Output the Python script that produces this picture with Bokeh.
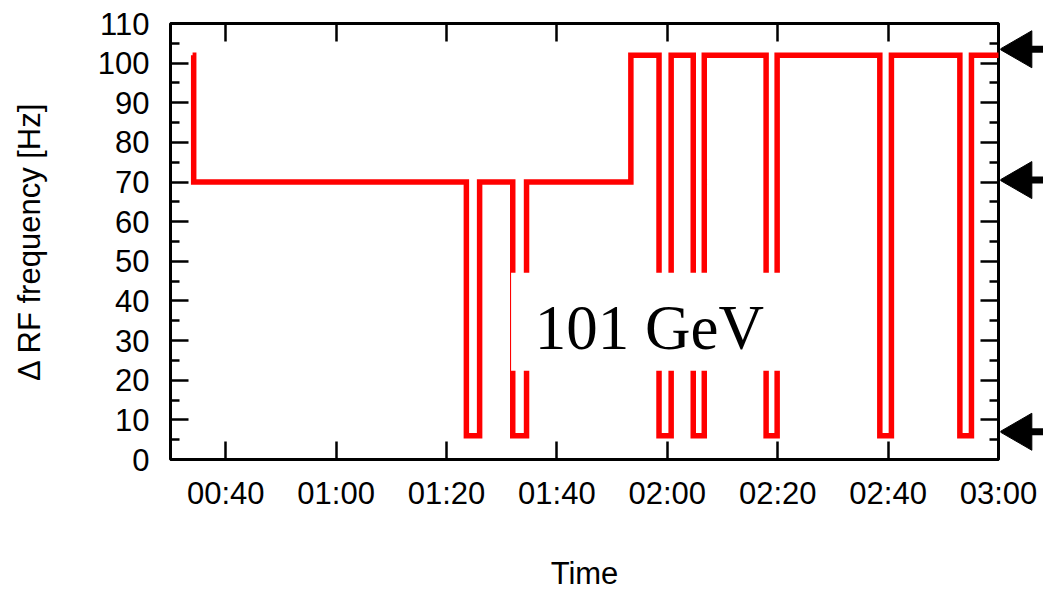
import math

from bokeh.plotting import figure
from bokeh.layouts import row
from bokeh.models import Range1d, FixedTicker, LinearAxis, BoxAnnotation, Label
from bokeh.embed import file_html
from bokeh.resources import INLINE

# RF frequency offset programme: switch times (minutes after 00:00) and levels [Hz]
switch_minutes = [34.0, 34.2, 83.6, 86.0, 92.0, 94.5, 113.4, 118.5, 120.7,
                  124.7, 126.7, 137.9, 139.9, 158.5, 160.6, 173.0, 175.1, 181.0]
delta_rf_hz = [102, 70, 6, 70, 6, 70, 102, 6, 102,
               6, 102, 6, 102, 6, 102, 6, 102, 102]

# reference levels marked by arrows on the right edge [Hz]
arrow_levels = [103.5, 70.5, 7.0]

x_tick_minutes = [40, 60, 80, 100, 120, 140, 160, 180]
x_tick_labels = ["00:40", "01:00", "01:20", "01:40", "02:00", "02:20", "02:40", "03:00"]
y_ticks = list(range(0, 111, 10))
y_minor_ticks = list(range(5, 110, 10))

energy_label = "101 GeV"
x_title = "Time"
y_title = "\u0394 RF frequency [Hz]"

FONT = "Liberation Sans"
TOP, BOTTOM = 23, 133
X0, X1 = 30, 180

y_range = Range1d(0, 110)

p = figure(width=1043, height=593, output_backend="svg", toolbar_location=None,
           x_range=Range1d(X0, X1), y_range=y_range,
           min_border_left=170, min_border_right=45,
           min_border_top=TOP, min_border_bottom=BOTTOM,
           x_axis_label=x_title, y_axis_label=y_title)

p.xgrid.visible = False
p.ygrid.visible = False
p.background_fill_color = "white"
p.border_fill_color = "white"
p.outline_line_color = "black"
p.outline_line_width = 3

x_ticker = FixedTicker(ticks=x_tick_minutes)
y_ticker = FixedTicker(ticks=y_ticks, minor_ticks=y_minor_ticks)


def style_axis(ax):
    ax.axis_line_color = None
    ax.major_tick_in = 18
    ax.major_tick_out = 0
    ax.minor_tick_in = 9
    ax.minor_tick_out = 0
    ax.major_tick_line_width = 2.5
    ax.minor_tick_line_width = 2.5
    ax.major_tick_line_color = "black"
    ax.minor_tick_line_color = "black"
    ax.major_label_text_font = FONT
    ax.major_label_text_color = "black"
    ax.major_label_text_font_size = "31px"
    ax.axis_label_text_font = FONT
    ax.axis_label_text_font_style = "normal"
    ax.axis_label_text_font_size = "31px"
    ax.axis_label_text_color = "black"


def tick_only(ax, ticks):
    # mirror axis: tick marks only, no numbers
    style_axis(ax)
    ax.major_label_overrides = {t: "" for t in ticks}
    ax.major_label_text_font_size = "1px"
    ax.major_label_standoff = 0


xa = p.xaxis[0]
xa.ticker = x_ticker
xa.major_label_overrides = {m: lab for m, lab in zip(x_tick_minutes, x_tick_labels)}
style_axis(xa)
xa.minor_tick_in = 0
xa.major_label_standoff = 16
xa.axis_label_standoff = 42

ya = p.yaxis[0]
ya.ticker = y_ticker
style_axis(ya)
ya.major_label_standoff = 21
ya.axis_label_standoff = 48

top_ax = LinearAxis(ticker=x_ticker)
tick_only(top_ax, x_tick_minutes)
top_ax.minor_tick_in = 0
p.add_layout(top_ax, "above")

right_ax = LinearAxis(ticker=y_ticker)
tick_only(right_ax, y_ticks)
p.add_layout(right_ax, "right")

# stepped frequency programme
p.step(switch_minutes, delta_rf_hz, mode="after", line_color="#ff0000",
       line_width=5.5, line_join="miter")

# white panel behind the beam-energy text
p.add_layout(BoxAnnotation(left=91.7, right=141.4, bottom=22.4, top=47.1,
                           fill_color="white", fill_alpha=1.0,
                           line_alpha=0.0))
p.add_layout(Label(x=96.0, y=33.2, text=energy_label,
                   text_font="Liberation Serif", text_font_size="63px",
                   text_color="black", text_align="left",
                   text_baseline="alphabetic"))

# transparent strip laid over the right margin, holding the level arrows
# (x in pixels from the frame edge)
HEAD = 37
head_len = HEAD * math.sqrt(3) / 2
tip_x = -0.7
arrows = figure(width=43, height=593, output_backend="svg", toolbar_location=None,
                x_range=Range1d(0, 43), y_range=y_range,
                min_border_left=0, min_border_right=0,
                min_border_top=TOP, min_border_bottom=BOTTOM,
                x_axis_location=None, y_axis_location=None)
arrows.grid.visible = False
arrows.outline_line_color = None
arrows.background_fill_alpha = 0
arrows.border_fill_alpha = 0
arrows.margin = (0, 0, 0, -43)

n = len(arrow_levels)
arrows.segment(x0=[tip_x + head_len * 0.8] * n, x1=[50] * n,
               y0=arrow_levels, y1=arrow_levels, line_color="black", line_width=7)
arrows.scatter(x=[tip_x + head_len * 2 / 3] * n, y=arrow_levels, marker="triangle",
               size=HEAD, angle=math.pi / 2, fill_color="black", line_color="black")

layout = row(p, arrows, spacing=0)

open("out.html", "w").write(file_html(layout, INLINE))
